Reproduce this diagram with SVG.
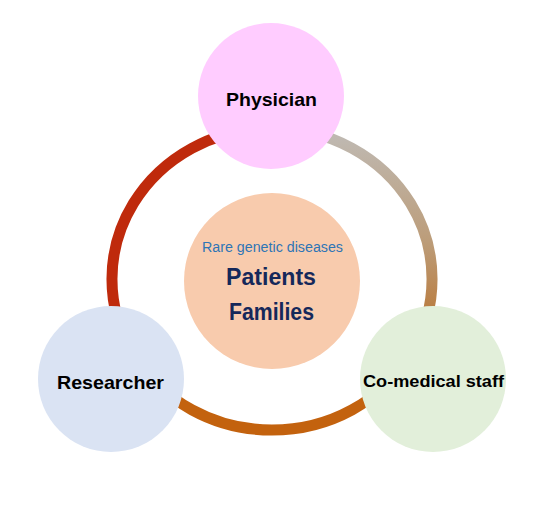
<svg xmlns="http://www.w3.org/2000/svg" width="550" height="508" viewBox="0 0 550 508">
  <style>
    .ring { fill: none; stroke-width: 11; }
    .lbl { font-family: "Liberation Sans", Arial, sans-serif; font-weight: bold; fill: #000000; text-anchor: middle; }
    .ctr { font-family: "Liberation Sans", Arial, sans-serif; text-anchor: middle; }
  </style>
  <defs>
    <linearGradient id="gRight" gradientUnits="userSpaceOnUse" x1="0" y1="135" x2="0" y2="345">
      <stop offset="0" stop-color="#BFB9B2"/>
      <stop offset="0.5" stop-color="#BC9D7A"/>
      <stop offset="1" stop-color="#B96F28"/>
    </linearGradient>
  </defs>
  <rect width="550" height="508" fill="#FFFFFF"/>
  <g id="connectors">
    <path class="ring" stroke="#BF2A0C" d="M 272 128 A 160 151 0 0 0 133.4 354.5"/>
    <path class="ring" stroke="#C3620E" d="M 133.4 354.5 A 160 151 0 0 0 410.6 354.5"/>
    <path class="ring" stroke="url(#gRight)" d="M 410.6 354.5 A 160 151 0 0 0 272 128"/>
  </g>
  <g id="center">
    <circle cx="272" cy="281" r="88" fill="#F8CBAD"/>
    <text class="ctr" x="272.5" y="252" font-size="14" fill="#2E75B6" textLength="141" lengthAdjust="spacingAndGlyphs">Rare genetic diseases</text>
    <text class="ctr" x="271" y="285" font-size="23" font-weight="bold" fill="#15285A" textLength="90" lengthAdjust="spacingAndGlyphs">Patients</text>
    <text class="ctr" x="271.5" y="320" font-size="23" font-weight="bold" fill="#15285A" textLength="85" lengthAdjust="spacingAndGlyphs">Families</text>
  </g>
  <g id="physician">
    <circle cx="271" cy="96" r="73" fill="#FFCCFF"/>
    <text class="lbl" x="271.5" y="106" font-size="19" textLength="91" lengthAdjust="spacingAndGlyphs">Physician</text>
  </g>
  <g id="researcher">
    <circle cx="111" cy="379" r="73" fill="#DAE3F3"/>
    <text class="lbl" x="110.5" y="389" font-size="19" textLength="107" lengthAdjust="spacingAndGlyphs">Researcher</text>
  </g>
  <g id="comedical">
    <circle cx="433" cy="379" r="73" fill="#E2EFDA"/>
    <text class="lbl" x="433.5" y="387" font-size="17" textLength="141" lengthAdjust="spacingAndGlyphs">Co-medical staff</text>
  </g>
</svg>
